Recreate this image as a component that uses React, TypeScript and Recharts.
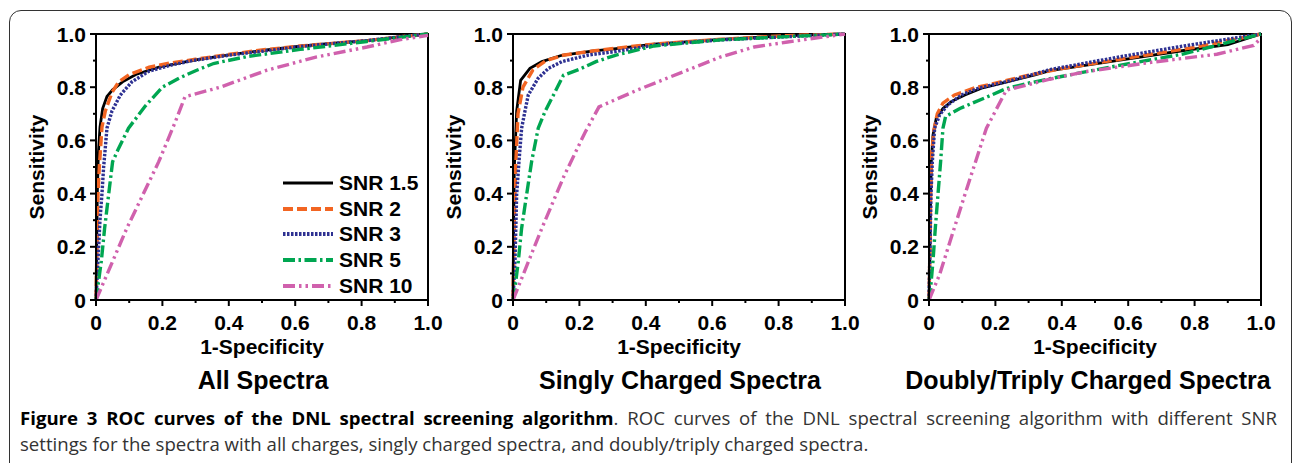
import { LineChart, Line, XAxis, YAxis, ReferenceArea, Legend } from 'recharts';

type Pt = [number, number];

// axis ticks every 0.1, labels only on the even ones
const ticks = [0, 0.1, 0.2, 0.3, 0.4, 0.5, 0.6, 0.7, 0.8, 0.9, 1];
const tickLabels = ['0', '', '0.2', '', '0.4', '', '0.6', '', '0.8', '', '1.0'];

const seriesNames = ['SNR 1.5', 'SNR 2', 'SNR 3', 'SNR 5', 'SNR 10'];
const panelTitles = ['All Spectra', 'Singly Charged Spectra', 'Doubly/Triply Charged Spectra'];

// All Spectra
const allSnr15: Pt[] = [[0, 0], [0.002, 0.2], [0.004, 0.4], [0.007, 0.55], [0.012, 0.65], [0.02, 0.72], [0.033, 0.765], [0.05, 0.79], [0.08, 0.82], [0.12, 0.848], [0.19, 0.876], [0.3, 0.903], [0.41, 0.923], [0.5, 0.938], [0.615, 0.954], [0.7, 0.964], [0.816, 0.975], [0.92, 0.99], [1, 1]];
const allSnr2: Pt[] = [[0, 0], [0.003, 0.2], [0.006, 0.4], [0.01, 0.5], [0.018, 0.65], [0.028, 0.71], [0.048, 0.78], [0.068, 0.82], [0.1, 0.847], [0.16, 0.875], [0.22, 0.89], [0.3, 0.905], [0.41, 0.925], [0.5, 0.94], [0.615, 0.955], [0.816, 0.975], [0.92, 0.99], [1, 1]];
const allSnr3: Pt[] = [[0, 0], [0.004, 0.1], [0.008, 0.2], [0.012, 0.3], [0.018, 0.4], [0.023, 0.5], [0.033, 0.646], [0.048, 0.71], [0.073, 0.77], [0.108, 0.82], [0.159, 0.86], [0.229, 0.884], [0.29, 0.9], [0.41, 0.922], [0.5, 0.935], [0.615, 0.953], [0.816, 0.975], [0.92, 0.99], [1, 1]];
const allSnr5: Pt[] = [[0, 0], [0.005, 0.046], [0.016, 0.146], [0.026, 0.27], [0.038, 0.396], [0.05, 0.52], [0.068, 0.57], [0.098, 0.646], [0.149, 0.73], [0.2, 0.8], [0.25, 0.834], [0.3, 0.862], [0.354, 0.889], [0.454, 0.915], [0.615, 0.942], [0.816, 0.972], [1, 1]];
const allSnr10: Pt[] = [[0, 0], [0.093, 0.27], [0.189, 0.52], [0.239, 0.67], [0.268, 0.764], [0.374, 0.8], [0.515, 0.864], [0.665, 0.914], [0.816, 0.951], [0.917, 0.979], [1, 0.995]];

// Singly charged
const singleSnr15: Pt[] = [[0, 0], [0.002, 0.3], [0.004, 0.5], [0.011, 0.71], [0.023, 0.826], [0.051, 0.871], [0.087, 0.896], [0.147, 0.92], [0.237, 0.936], [0.318, 0.946], [0.425, 0.962], [0.626, 0.98], [0.827, 0.994], [1, 1]];
const singleSnr2: Pt[] = [[0, 0], [0.004, 0.3], [0.008, 0.5], [0.015, 0.7], [0.03, 0.8], [0.06, 0.865], [0.1, 0.9], [0.15, 0.92], [0.24, 0.936], [0.32, 0.948], [0.425, 0.962], [0.626, 0.98], [0.827, 0.994], [1, 1]];
const singleSnr3: Pt[] = [[0, 0], [0.006, 0.146], [0.011, 0.396], [0.018, 0.52], [0.026, 0.646], [0.036, 0.71], [0.046, 0.771], [0.076, 0.834], [0.107, 0.871], [0.147, 0.896], [0.227, 0.921], [0.308, 0.934], [0.425, 0.958], [0.626, 0.978], [0.827, 0.99], [1, 1]];
const singleSnr5: Pt[] = [[0, 0], [0.006, 0.046], [0.016, 0.146], [0.026, 0.27], [0.041, 0.396], [0.056, 0.52], [0.076, 0.646], [0.097, 0.71], [0.122, 0.771], [0.152, 0.845], [0.199, 0.867], [0.25, 0.896], [0.308, 0.92], [0.425, 0.955], [0.626, 0.978], [0.827, 0.99], [1, 1]];
const singleSnr10: Pt[] = [[0, 0], [0.087, 0.27], [0.153, 0.464], [0.217, 0.63], [0.259, 0.726], [0.374, 0.789], [0.525, 0.864], [0.626, 0.914], [0.726, 0.951], [0.827, 0.97], [1, 1]];

// Doubly/triply charged
const multiSnr15: Pt[] = [[0, 0], [0.003, 0.2], [0.005, 0.396], [0.007, 0.52], [0.012, 0.62], [0.022, 0.684], [0.042, 0.72], [0.067, 0.746], [0.108, 0.771], [0.158, 0.796], [0.238, 0.821], [0.319, 0.846], [0.364, 0.862], [0.565, 0.9], [0.767, 0.938], [0.9, 0.96], [1, 1]];
const multiSnr2: Pt[] = [[0, 0], [0.003, 0.2], [0.005, 0.4], [0.008, 0.55], [0.015, 0.64], [0.025, 0.7], [0.042, 0.74], [0.077, 0.771], [0.138, 0.798], [0.2, 0.815], [0.3, 0.845], [0.4, 0.87], [0.6, 0.91], [0.8, 0.95], [1, 1]];
const multiSnr3: Pt[] = [[0, 0], [0.003, 0.2], [0.006, 0.396], [0.01, 0.52], [0.017, 0.646], [0.032, 0.696], [0.057, 0.734], [0.098, 0.771], [0.148, 0.796], [0.25, 0.826], [0.364, 0.866], [0.565, 0.912], [0.767, 0.955], [1, 1]];
const multiSnr5: Pt[] = [[0, 0], [0.005, 0.046], [0.012, 0.146], [0.019, 0.27], [0.027, 0.396], [0.035, 0.52], [0.042, 0.646], [0.05, 0.69], [0.093, 0.72], [0.178, 0.765], [0.233, 0.795], [0.299, 0.815], [0.364, 0.832], [0.565, 0.88], [0.767, 0.925], [1, 1]];
const multiSnr10: Pt[] = [[0, 0], [0.032, 0.096], [0.108, 0.396], [0.173, 0.646], [0.233, 0.789], [0.364, 0.83], [0.465, 0.857], [0.666, 0.893], [0.867, 0.924], [0.978, 0.957], [1, 0.985]];

const panels: Pt[][][] = [
  [allSnr15, allSnr2, allSnr3, allSnr5, allSnr10],
  [singleSnr15, singleSnr2, singleSnr3, singleSnr5, singleSnr10],
  [multiSnr15, multiSnr2, multiSnr3, multiSnr5, multiSnr10],
];

const colors = ['#000000', '#f26522', '#2e3192', '#00a651', '#d061ad'];
const dashes = ['', '10 4', '2.5 1.5', '12 3.5 2.5 3.5', '12 4 2.5 4 2.5 4'];
const widths = [2.8, 3.4, 3.4, 3.4, 3.4];

const FONT = '"Liberation Sans", Arial, sans-serif';

const XTick = (props: any) => {
  const { x, y, index } = props;
  const major = index % 2 === 0;
  return (
    <g>
      <line x1={x} x2={x} y1={y} y2={y + (major ? 6 : 3)} stroke="#000" strokeWidth={2} />
      <text x={x} y={y + 30} textAnchor="middle" fontFamily={FONT} fontWeight="bold" fontSize={21} fill="#000">
        {tickLabels[index]}
      </text>
    </g>
  );
};

const YTick = (props: any) => {
  const { x, y, index } = props;
  const major = index % 2 === 0;
  return (
    <g>
      <line x1={x - (major ? 6 : 3)} x2={x} y1={y} y2={y} stroke="#000" strokeWidth={2} />
      <text x={x - 10} y={y} dy="0.36em" textAnchor="end" fontFamily={FONT} fontWeight="bold" fontSize={21} fill="#000">
        {tickLabels[index]}
      </text>
    </g>
  );
};

const LegendBox = () => (
  <div style={{ fontFamily: FONT, fontWeight: 'bold', fontSize: 21, color: '#000' }}>
    {seriesNames.map((name, i) => (
      <div key={name} style={{ display: 'flex', alignItems: 'center', height: 25.75 }}>
        <svg width={50} height={6}>
          <line x1={0} x2={50} y1={3} y2={3} stroke={colors[i]} strokeWidth={widths[i] + 0.4} strokeDasharray={dashes[i] || undefined} />
        </svg>
        <span style={{ marginLeft: 6, whiteSpace: 'nowrap' }}>{name}</span>
      </div>
    ))}
  </div>
);

function Panel({ idx, left, titleCenter }: { idx: number; left: number; titleCenter: number }) {
  return (
    <div style={{ position: 'absolute', left, top: 0, width: 460, height: 400 }}>
      <LineChart width={460} height={360} margin={{ top: 34, right: 32, left: 0, bottom: 0 }}>
        <XAxis
          type="number"
          dataKey="x"
          domain={[0, 1]}
          ticks={ticks}
          interval={0}
          height={60}
          tickSize={0}
          tickMargin={0}
          tickLine={false}
          tick={(p: any) => <XTick {...p} />}
          axisLine={{ stroke: '#000', strokeWidth: 2 }}
          label={{ value: '1-Specificity', position: 'insideBottom', offset: 6, fontFamily: FONT, fontWeight: 'bold', fontSize: 21, fill: '#000' }}
        />
        <YAxis
          type="number"
          dataKey="y"
          domain={[0, 1]}
          ticks={ticks}
          interval={0}
          width={96}
          tickSize={0}
          tickMargin={0}
          tickLine={false}
          tick={(p: any) => <YTick {...p} />}
          axisLine={{ stroke: '#000', strokeWidth: 2 }}
          label={{ value: 'Sensitivity', angle: -90, position: 'insideLeft', offset: 37, style: { textAnchor: 'middle' }, fontFamily: FONT, fontWeight: 'bold', fontSize: 21, fill: '#000' }}
        />
        <ReferenceArea x1={0} x2={1} y1={0} y2={1} fill="none" fillOpacity={0} stroke="#000" strokeWidth={2} />
        {panels[idx].map((pts, i) => (
          <Line
            key={seriesNames[i]}
            name={seriesNames[i]}
            data={pts.map(([x, y]) => ({ x, y }))}
            dataKey="y"
            type="linear"
            stroke={colors[i]}
            strokeWidth={widths[i]}
            strokeDasharray={dashes[i] || undefined}
            dot={false}
            activeDot={false}
            isAnimationActive={false}
          />
        ))}
        {idx === 0 && (
          <Legend
            layout="vertical"
            align="center"
            verticalAlign="middle"
            content={() => <LegendBox />}
            wrapperStyle={{ position: 'absolute', left: 283, top: 170, width: 'auto', height: 'auto' }}
          />
        )}
      </LineChart>
      <div
        style={{
          position: 'absolute',
          left: titleCenter - left - 250,
          width: 500,
          top: 365,
          lineHeight: '30px',
          textAlign: 'center',
          fontFamily: FONT,
          fontWeight: 'bold',
          fontSize: 25,
          color: '#000',
        }}
      >
        {panelTitles[idx]}
      </div>
    </div>
  );
}

const captionStyle = {
  position: 'absolute' as const,
  left: 20,
  width: 1257,
  fontFamily: '"Open Sans", sans-serif',
  fontSize: 18.6,
  lineHeight: '26px',
  color: '#333',
  whiteSpace: 'nowrap' as const,
};

export default function App() {
  return (
    <div style={{ position: 'absolute', left: 0, top: 0, width: 1293, height: 463, background: '#fff', overflow: 'hidden' }}>
      <div
        style={{
          position: 'absolute',
          left: 9,
          top: 10,
          width: 1283,
          height: 480,
          boxSizing: 'border-box',
          border: '1.5px solid #333',
          borderRadius: 12,
        }}
      />
      <Panel idx={0} left={0} titleCenter={263} />
      <Panel idx={1} left={417} titleCenter={680} />
      <Panel idx={2} left={833} titleCenter={1088} />
      <div style={{ ...captionStyle, top: 405, textAlign: 'justify', textAlignLast: 'justify', whiteSpace: 'normal' }}>
        <b style={{ color: '#000' }}>Figure 3 ROC curves of the DNL spectral screening algorithm</b>. ROC curves of the DNL spectral screening
        algorithm with different SNR
      </div>
      <div style={{ ...captionStyle, top: 431 }}>
        settings for the spectra with all charges, singly charged spectra, and doubly/triply charged spectra.
      </div>
    </div>
  );
}
